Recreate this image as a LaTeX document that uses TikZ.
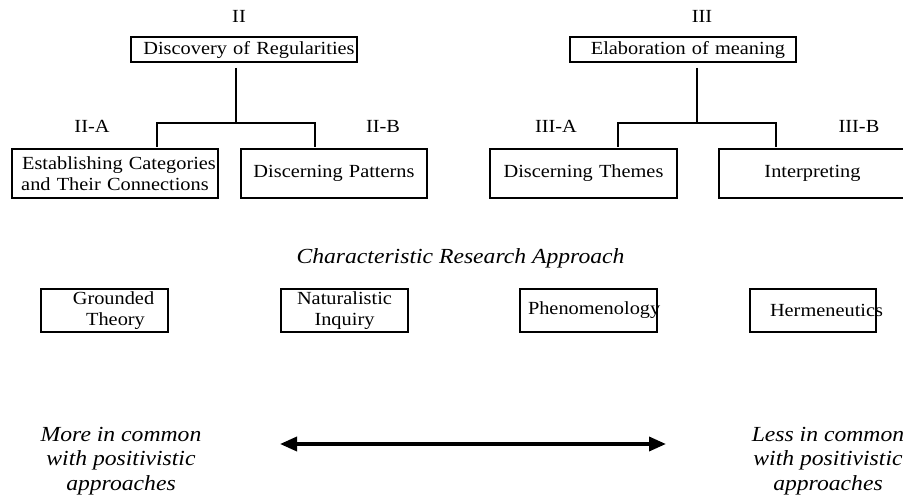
\documentclass[tikz,border=0pt]{standalone}
\usepackage{fontspec}
\setmainfont[FakeStretch=1.1]{Liberation Serif}
\usetikzlibrary{arrows.meta}

\tikzset{
  stage/.style={draw, line width=1.6pt, inner sep=0pt, align=center,
    font=\fontsize{18.5}{20.5}\selectfont},
  approach/.style={stage, minimum height=43pt},
  tag/.style={font=\fontsize{18.5}{20.5}\selectfont},
  note/.style={align=center, font=\fontsize{21.5}{24.5}\selectfont\itshape},
  branch/.style={line width=1.2pt},
}

\begin{document}
\begin{tikzpicture}[x=1pt, y=-1pt, >={Triangle[length=17pt, width=14pt]}]
  \useasboundingbox (0,0) rectangle (903,497);

  % Stage II
  \node[tag] (two) at (239,16) {II};
  \node[stage, text width=226pt, minimum height=25pt] (regularities) at (244,49.5) {\hspace*{10pt}Discovery of Regularities};
  \node[tag] (twoA) at (92,126) {II-A};
  \node[tag] (twoB) at (383,126) {II-B};
  \node[stage, text width=206pt, minimum height=49pt] (categories) at (115,173.5) {\hspace*{8pt}Establishing Categories\\and Their Connections};
  \node[stage, text width=186pt, minimum height=49pt] (patterns) at (334,173.5) {Discerning Patterns};

  % Stage III
  \node[tag] (three) at (702,16) {III};
  \node[stage, text width=226pt, minimum height=25pt] (meaning) at (683,49.5) {\hspace*{10pt}Elaboration of meaning};
  \node[tag] (threeA) at (556,126) {III-A};
  \node[tag] (threeB) at (859,126) {III-B};
  \node[stage, text width=187pt, minimum height=49pt] (themes) at (583.5,173.5) {Discerning Themes};
  \node[stage, text width=187pt, minimum height=49pt] (interpreting) at (812.5,173.5) {Interpreting};

  % Branches
  \coordinate (regtop) at (236,68);
  \coordinate (regmid) at (236,123);
  \coordinate (regleft) at (157,147);
  \coordinate (regright) at (315,147);
  \draw[branch] (regtop) -- (regmid);
  \draw[branch] (regleft) |- (regmid) -| (regright);

  \coordinate (meantop) at (697,68);
  \coordinate (meanmid) at (697,123);
  \coordinate (meanleft) at (618,147);
  \coordinate (meanright) at (776,147);
  \draw[branch] (meantop) -- (meanmid);
  \draw[branch] (meanleft) |- (meanmid) -| (meanright);

  % Research approaches
  \node[note] (research) at (460.5,258) {Characteristic Research Approach};
  \node[approach, text width=127pt] (grounded) at (104.5,310.5) {\hspace*{18pt}Grounded\\\hspace*{22pt}Theory};
  \node[approach, text width=127pt] (naturalistic) at (344.5,310.5) {Naturalistic\\Inquiry};
  \node[approach, text width=137pt] (phenomenology) at (588.5,310.5) {\mbox{\hspace*{8pt}Phenomenology}};
  \node[approach, text width=126pt] (hermeneutics) at (813,310.5) {\mbox{\hspace*{20pt}Hermeneutics}};

  % Continuum
  \node[note] (more) at (121,461) {More in common\\with positivistic\\approaches};
  \node[note] (less) at (828,461) {Less in common\\with positivistic\\approaches};
  \coordinate (leftend) at (280,444);
  \coordinate (rightend) at (666,444);
  \draw[<->, line width=3.5pt] (leftend) -- (rightend);
\end{tikzpicture}
\end{document}
